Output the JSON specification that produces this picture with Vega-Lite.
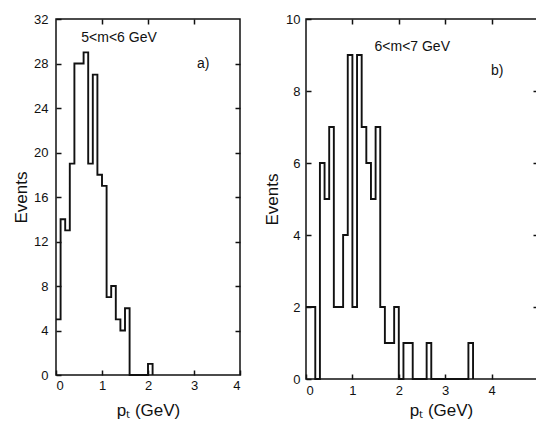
{
  "$schema": "https://vega.github.io/schema/vega-lite/v6.json",
  "background": "white",
  "padding": {"left": 11, "top": 12, "right": 0, "bottom": 0},
  "bounds": "flush",
  "spacing": 66,
  "config": {
    "view": {"stroke": "#111", "strokeWidth": 1.5},
    "font": "Liberation Sans",
    "axis": {
      "domain": false, "grid": false, "tickColor": "#111", "tickWidth": 1.5, "tickSize": -5,
      "labelFont": "Liberation Sans", "labelFontSize": 13, "labelColor": "#111",
      "titleFont": "Liberation Sans", "titleFontSize": 17, "titleFontWeight": "normal", "titleColor": "#111"
    }
  },
  "datasets": {
    "a": [
      {"pt": 0.0, "n": 5}, {"pt": 0.1, "n": 14}, {"pt": 0.2, "n": 13}, {"pt": 0.3, "n": 19},
      {"pt": 0.4, "n": 28}, {"pt": 0.5, "n": 28}, {"pt": 0.6, "n": 29}, {"pt": 0.7, "n": 19},
      {"pt": 0.8, "n": 27}, {"pt": 0.9, "n": 18}, {"pt": 1.0, "n": 17}, {"pt": 1.1, "n": 7},
      {"pt": 1.2, "n": 8}, {"pt": 1.3, "n": 5}, {"pt": 1.4, "n": 4}, {"pt": 1.5, "n": 6},
      {"pt": 1.6, "n": 0}, {"pt": 2.0, "n": 1}, {"pt": 2.1, "n": 0}
    ],
    "b": [
      {"pt": 0.0, "n": 2}, {"pt": 0.1, "n": 2}, {"pt": 0.2, "n": 0}, {"pt": 0.3, "n": 6},
      {"pt": 0.4, "n": 5}, {"pt": 0.5, "n": 7}, {"pt": 0.6, "n": 2}, {"pt": 0.7, "n": 2},
      {"pt": 0.8, "n": 4}, {"pt": 0.9, "n": 9}, {"pt": 1.0, "n": 2}, {"pt": 1.1, "n": 9},
      {"pt": 1.2, "n": 7}, {"pt": 1.3, "n": 6}, {"pt": 1.4, "n": 5}, {"pt": 1.5, "n": 7},
      {"pt": 1.6, "n": 2}, {"pt": 1.7, "n": 1}, {"pt": 1.8, "n": 1}, {"pt": 1.9, "n": 2},
      {"pt": 2.0, "n": 0}, {"pt": 2.1, "n": 1}, {"pt": 2.2, "n": 1}, {"pt": 2.3, "n": 0},
      {"pt": 2.6, "n": 1}, {"pt": 2.7, "n": 0}, {"pt": 3.5, "n": 1}, {"pt": 3.6, "n": 0}
    ],
    "labelsA": [
      {"x": 1.37, "y": 30.3, "t": "5<m<6 GeV"},
      {"x": 3.2, "y": 28.0, "t": "a)"}
    ],
    "labelsB": [
      {"x": 2.29, "y": 9.22, "t": "6<m<7 GeV"},
      {"x": 4.12, "y": 8.55, "t": "b)"}
    ]
  },
  "hconcat": [
    {
      "width": 184,
      "height": 356,
      "resolve": {"axis": {"x": "independent", "y": "independent"}},
      "layer": [
        {
          "data": {"name": "a"},
          "mark": {"type": "line", "interpolate": "step-after", "color": "#111", "strokeWidth": 1.9},
          "encoding": {
            "x": {"field": "pt", "type": "quantitative", "scale": {"domain": [0, 4], "nice": false},
              "axis": {"orient": "bottom", "values": [0, 1, 2, 3, 4], "labelPadding": 9, "title": "pₜ  (GeV)", "titlePadding": 10}},
            "y": {"field": "n", "type": "quantitative", "scale": {"domain": [0, 32], "nice": false},
              "axis": {"orient": "left", "values": [0, 4, 8, 12, 16, 20, 24, 28, 32], "labelPadding": 13, "title": "Events", "titlePadding": 3}}
          }
        },
        {
          "data": {"name": "labelsA"},
          "mark": {"type": "text", "fontSize": 14, "color": "#111", "font": "Liberation Sans"},
          "encoding": {
            "x": {"field": "x", "type": "quantitative", "axis": {"orient": "top", "values": [1, 2, 3], "labels": false, "title": null}},
            "y": {"field": "y", "type": "quantitative", "axis": {"orient": "right", "values": [4, 8, 12, 16, 20, 24, 28], "labels": false, "title": null}},
            "text": {"field": "t"}
          }
        }
      ]
    },
    {
      "width": 232,
      "height": 360,
      "resolve": {"axis": {"x": "independent", "y": "independent"}},
      "layer": [
        {
          "data": {"name": "b"},
          "mark": {"type": "line", "interpolate": "step-after", "color": "#111", "strokeWidth": 1.9},
          "encoding": {
            "x": {"field": "pt", "type": "quantitative", "scale": {"domain": [0, 5], "nice": false},
              "axis": {"orient": "bottom", "values": [0, 1, 2, 3, 4], "labelPadding": 10, "title": "pₜ  (GeV)", "titlePadding": 5, "titleX": 135}},
            "y": {"field": "n", "type": "quantitative", "scale": {"domain": [0, 10], "nice": false},
              "axis": {"orient": "left", "values": [0, 2, 4, 6, 8, 10], "labelPadding": 11, "title": "Events", "titlePadding": 4}}
          }
        },
        {
          "data": {"name": "labelsB"},
          "mark": {"type": "text", "fontSize": 14, "color": "#111", "font": "Liberation Sans"},
          "encoding": {
            "x": {"field": "x", "type": "quantitative", "axis": {"orient": "top", "values": [1, 2, 3, 4], "labels": false, "title": null}},
            "y": {"field": "y", "type": "quantitative", "axis": {"orient": "right", "values": [2, 4, 6, 8], "labels": false, "title": null}},
            "text": {"field": "t"}
          }
        }
      ]
    }
  ]
}
